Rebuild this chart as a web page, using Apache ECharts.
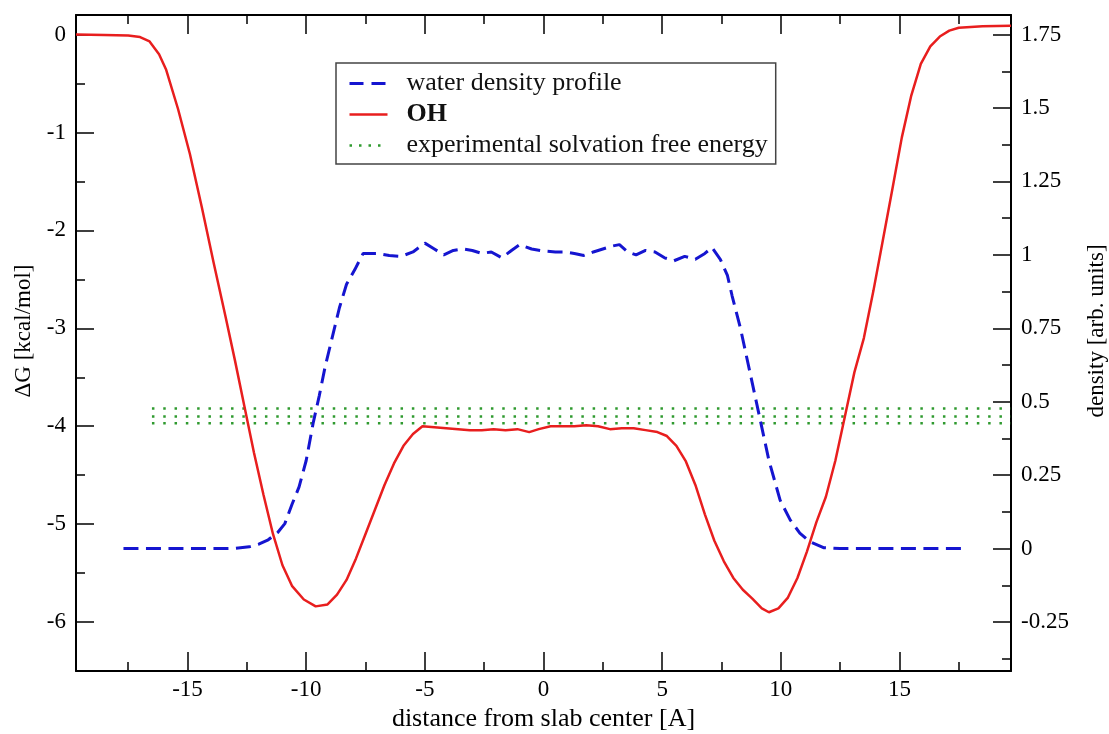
<!DOCTYPE html>
<html>
<head>
<meta charset="utf-8">
<script src="https://cdn.jsdelivr.net/npm/echarts@6/dist/echarts.min.js"></script>
<style>html,body{margin:0;padding:0;background:#fff;}#c{width:1109px;height:734px;}</style>
</head>
<body>
<div id="c"></div>
<script>
// ---- data ----
const ohX = [-19.7,-18.5,-17.5,-17.0,-16.6,-16.2,-15.9,-15.4,-14.9,-14.4,-13.9,-13.4,-13.0,-12.6,-12.2,-11.8,-11.4,-11.0,-10.6,-10.1,-9.6,-9.1,-8.7,-8.3,-7.9,-7.5,-7.1,-6.7,-6.3,-5.9,-5.5,-5.1,-4.6,-4.1,-3.6,-3.1,-2.6,-2.1,-1.6,-1.1,-0.6,-0.2,0.3,0.8,1.3,1.8,2.3,2.8,3.3,3.8,4.3,4.8,5.2,5.6,6.0,6.4,6.8,7.2,7.6,8.0,8.4,8.8,9.2,9.5,9.9,10.3,10.7,11.1,11.5,11.9,12.3,12.7,13.1,13.5,13.9,14.3,14.7,15.1,15.5,15.9,16.3,16.7,17.1,17.5,18.5,19.7];
const ohG = [0,-0.005,-0.01,-0.025,-0.07,-0.2,-0.36,-0.76,-1.22,-1.76,-2.33,-2.88,-3.33,-3.8,-4.27,-4.7,-5.1,-5.42,-5.63,-5.77,-5.84,-5.82,-5.72,-5.57,-5.35,-5.1,-4.85,-4.6,-4.38,-4.2,-4.08,-4.0,-4.01,-4.02,-4.03,-4.04,-4.04,-4.03,-4.04,-4.03,-4.06,-4.03,-4.0,-4.0,-4.0,-3.99,-4.0,-4.03,-4.02,-4.02,-4.04,-4.06,-4.1,-4.2,-4.36,-4.6,-4.9,-5.17,-5.38,-5.55,-5.67,-5.76,-5.86,-5.9,-5.86,-5.75,-5.55,-5.28,-4.98,-4.72,-4.35,-3.9,-3.45,-3.1,-2.62,-2.1,-1.58,-1.05,-0.62,-0.3,-0.12,-0.02,0.04,0.07,0.085,0.09];
const waterX = [-17.7,-16,-14,-13,-12.4,-12.0,-11.6,-11.2,-10.9,-10.6,-10.3,-10.0,-9.7,-9.45,-9.2,-8.9,-8.6,-8.3,-7.95,-7.6,-7.0,-6.5,-6.0,-5.5,-5.0,-4.6,-4.2,-3.8,-3.4,-3.0,-2.6,-2.2,-1.75,-1.35,-1.0,-0.5,0,0.5,0.9,1.3,1.7,2.1,2.5,2.9,3.2,3.55,3.9,4.3,4.7,5.1,5.5,5.95,6.4,6.8,7.1,7.45,7.75,7.95,8.3,8.7,9.1,9.5,9.97,10.4,10.8,11.23,11.8,12.5,14,16,17.7];
const waterDensity = [0,0,0,0.001,0.006,0.015,0.03,0.055,0.085,0.15,0.21,0.3,0.43,0.52,0.62,0.72,0.82,0.9,0.95,1.005,1.005,0.998,0.995,1.01,1.04,1.02,1.0,1.015,1.02,1.015,1.005,1.01,0.99,1.015,1.035,1.02,1.013,1.01,1.01,1.005,0.998,1.01,1.02,1.03,1.035,1.01,1.0,1.015,1.01,0.99,0.98,0.995,0.985,1.005,1.025,0.985,0.93,0.86,0.75,0.6,0.45,0.3,0.165,0.097,0.053,0.023,0.003,0,0,0,0];
const exptG = [-3.82, -3.90, -3.97];
const exptX = [-16.5, 19.7];
const xLabels = [-15,-10,-5,0,5,10,15];
const xMinor = [-17.5,-12.5,-7.5,-2.5,2.5,7.5,12.5,17.5];
const gLabels = [-6,-5,-4,-3,-2,-1,0];
const gMinor = [-5.5,-4.5,-3.5,-2.5,-1.5,-0.5];
const dLabels = [-0.25,0,0.25,0.5,0.75,1,1.25,1.5,1.75];
const dMinor = [-0.375,-0.125,0.125,0.375,0.625,0.875,1.125,1.375,1.625];

const xMin = -19.7, xMax = 19.7;
const gMin = -6.5, gMax = 0.2;
const dMin = gMin / 3 + 1.75, dMax = gMax / 3 + 1.75;

const FONT = 'Liberation Serif';
const lineCol = '#000';
const BLUE = '#1515d0', RED = '#e81e1e', GREEN = '#2f9a2f';

function zip(a, b) { return a.map((v, i) => [v, b[i]]); }

function xAx(pos, ticks, len, main, labels) {
  return {
    type: 'value', position: pos, min: xMin, max: xMax,
    axisLine: { show: main, onZero: false, lineStyle: { color: lineCol, width: 2 } },
    axisTick: { show: true, inside: true, length: len, customValues: ticks, lineStyle: { color: lineCol, width: 1.5 } },
    axisLabel: labels ? { show: true, customValues: labels, margin: 7, color: '#000', fontFamily: FONT, fontSize: 23 } : { show: false },
    splitLine: { show: false }
  };
}
function yAx(pos, mn, mx, ticks, len, main, labels, name, gap) {
  return {
    type: 'value', position: pos, min: mn, max: mx,
    name: name || '', nameLocation: 'middle', nameGap: gap || 0,
    nameTextStyle: { fontFamily: FONT, fontSize: 23, color: '#000', padding: [0, 0, 0, 24] },
    axisLine: { show: main, onZero: false, lineStyle: { color: lineCol, width: 2 } },
    axisTick: { show: true, inside: true, length: len, customValues: ticks, lineStyle: { color: lineCol, width: 1.5 } },
    axisLabel: labels ? { show: true, customValues: labels, margin: 10, color: '#000', fontFamily: FONT, fontSize: 23 } : { show: false },
    splitLine: { show: false }
  };
}

const xAxis = [
  Object.assign(xAx('bottom', xLabels, 19, true, xLabels), { name: 'distance from slab center [A]', nameLocation: 'middle', nameGap: 33, nameTextStyle: { fontFamily: FONT, fontSize: 26, color: '#000' } }),
  xAx('bottom', xMinor, 9, false, null),
  xAx('top', xLabels, 19, true, null),
  xAx('top', xMinor, 9, false, null)
];
const yAxis = [
  yAx('left', gMin, gMax, gLabels, 18, true, gLabels, 'ΔG [kcal/mol]', 35),
  yAx('left', gMin, gMax, gMinor, 9, false, null),
  yAx('right', dMin, dMax, dLabels, 18, true, dLabels, 'density [arb. units]', 74),
  yAx('right', dMin, dMax, dMinor, 9, false, null)
];

const series = [
  {
    name: 'water density profile', type: 'line', xAxisIndex: 0, yAxisIndex: 2,
    data: zip(waterX, waterDensity), showSymbol: false, symbol: 'none',
    lineStyle: { color: BLUE, width: 3, type: [15, 7.5] }, itemStyle: { color: BLUE }, z: 3
  },
  {
    name: 'OH', type: 'line', xAxisIndex: 0, yAxisIndex: 0,
    data: zip(ohX, ohG), showSymbol: false, symbol: 'none',
    lineStyle: { color: RED, width: 2.5 }, itemStyle: { color: RED }, z: 4
  }
].concat(exptG.map(g => ({
  name: 'experimental solvation free energy', type: 'line', xAxisIndex: 0, yAxisIndex: 0,
  data: exptX.map(x => [x, g]), showSymbol: false, symbol: 'none',
  lineStyle: { color: GREEN, width: 2.5, type: [2.5, 8.8] }, itemStyle: { color: GREEN }, z: 2
})));

const chart = echarts.init(document.getElementById('c'), null, { renderer: 'canvas' });
chart.setOption({
  animation: false,
  backgroundColor: '#fff',
  grid: { left: 76, right: 98, top: 15, bottom: 63, containLabel: false, outerBoundsMode: 'none' },
  legend: {
    left: 336, top: 63, orient: 'vertical',
    data: [
      { name: 'water density profile', lineStyle: { color: BLUE, width: 3, type: [14, 8] } },
      { name: 'OH', lineStyle: { color: RED, width: 2.5, type: 'solid' } },
      { name: 'experimental solvation free energy', lineStyle: { color: GREEN, width: 2.5, type: [2.5, 7] } }
    ],
    itemStyle: { opacity: 0 },
    itemWidth: 38, itemHeight: 14, itemGap: 2,
    padding: [6, 8, 4, 12],
    borderColor: '#444', borderWidth: 1.5, backgroundColor: '#fff',
    formatter: n => n === 'OH' ? '{b|OH}' : n,
    textStyle: { fontFamily: FONT, fontSize: 26, lineHeight: 29, color: '#111', padding: [0, 0, 0, 14],
      rich: { b: { fontFamily: FONT, fontSize: 26, lineHeight: 29, fontWeight: 'bold', color: '#111' } } }
  },
  xAxis: xAxis,
  yAxis: yAxis,
  series: series
});
</script>
</body>
</html>
